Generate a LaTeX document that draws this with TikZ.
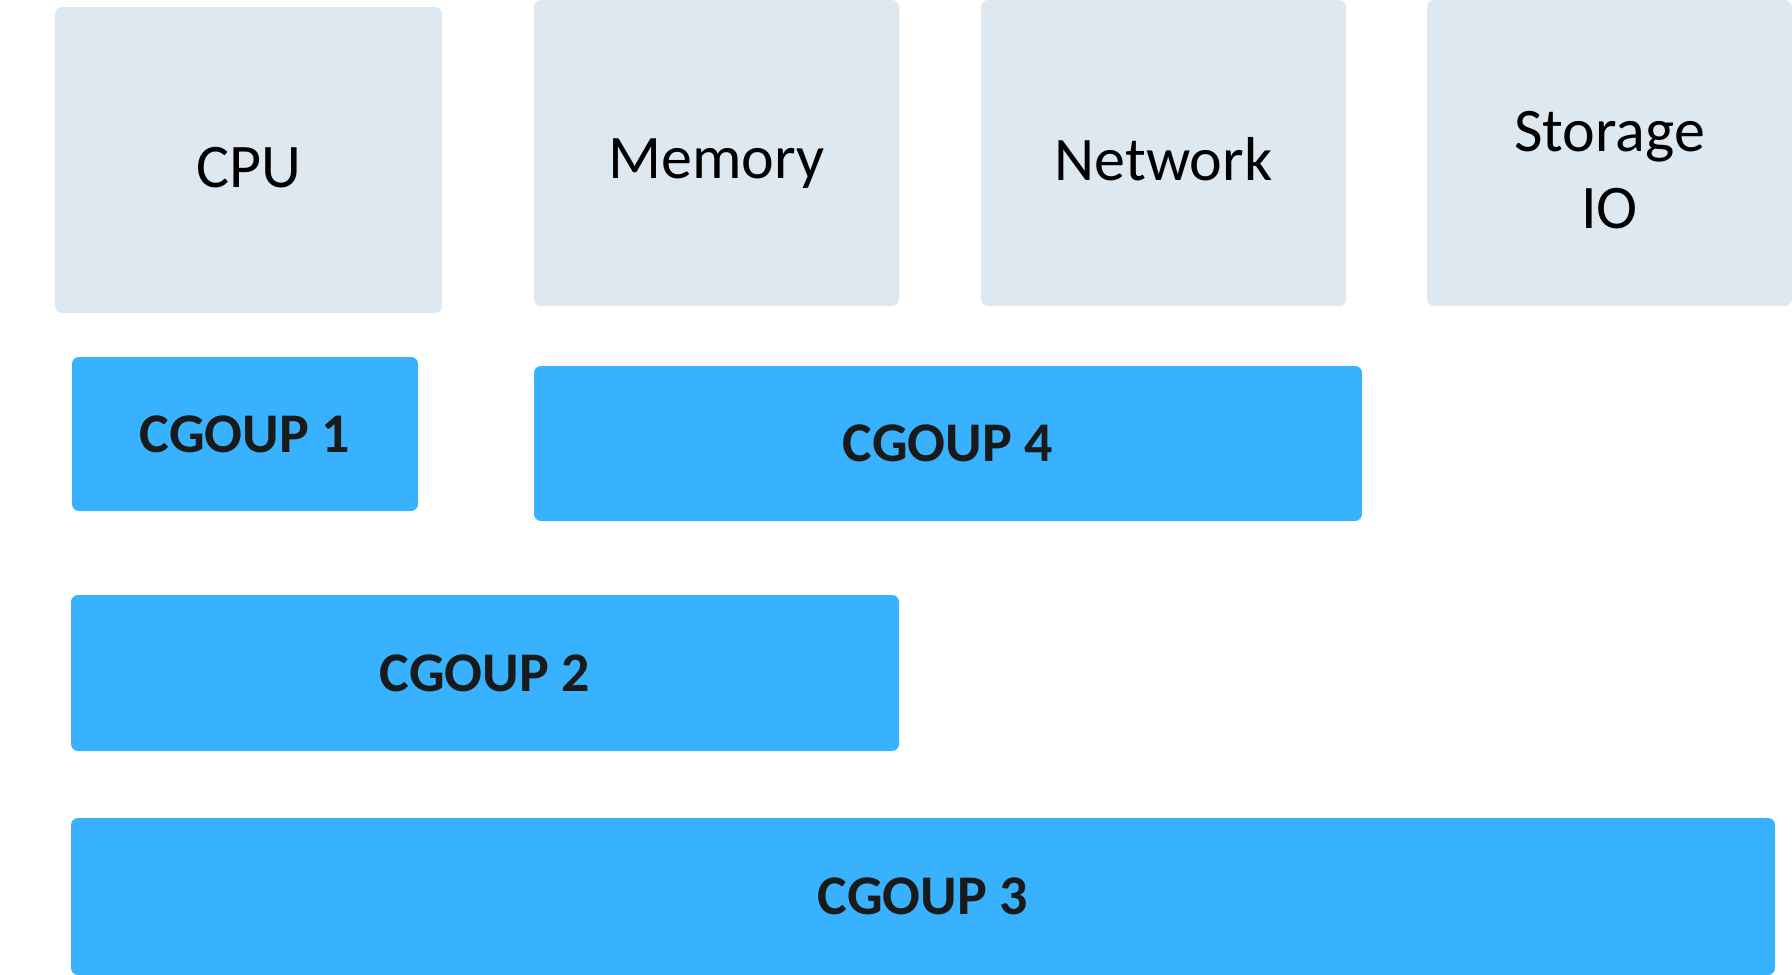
\documentclass[tikz,border=0pt]{standalone}
\usepackage{fontspec}
\setmainfont{Carlito}
\usetikzlibrary{positioning}

\definecolor{reslight}{HTML}{DEE8F1}
\definecolor{cgblue}{HTML}{38B2FE}
\definecolor{cgtext}{HTML}{1A1A1A}

% lower a label without changing its box
\newcommand{\lowtxt}[2]{\raisebox{-#1}[\height][\depth]{#2}}

\begin{document}
\begin{tikzpicture}[x=1pt,y=-1pt,
  resbox/.style={rectangle, rounded corners=7pt, fill=reslight, inner sep=0pt, outer sep=0pt,
    minimum height=306pt, align=center, text=black, font=\fontsize{62}{77}\selectfont},
  cgbox/.style={rectangle, rounded corners=7pt, fill=cgblue, inner sep=0pt, outer sep=0pt,
    minimum height=155pt, text=cgtext, font=\fontsize{56}{66}\selectfont\bfseries}]

\useasboundingbox (0,0) rectangle (1792,975);

% Resources
\node[resbox, minimum width=387pt] (cpu) at (248.5,160) {\lowtxt{8pt}{CPU}};
\node[resbox, minimum width=365pt] (mem) at (716.5,153) {\lowtxt{11pt}{Memory}};
\node[resbox, minimum width=365pt] (net) at (1163.5,153) {\lowtxt{6pt}{Network}};
\node[resbox, minimum width=365pt] (sto) at (1609.5,153) {\lowtxt{17pt}{Storage}\\\lowtxt{17pt}{IO}};

% Control groups
\node[cgbox, minimum width=346pt, minimum height=154pt] (cg1) at (245,434) {CGOUP 1};
\node[cgbox, minimum width=828pt] (cg4) at (948,443.5) {CGOUP 4};
\node[cgbox, minimum width=828pt, minimum height=156pt] (cg2) at (485,673) {CGOUP 2};
\node[cgbox, minimum width=1704pt, minimum height=157pt] (cg3) at (923,896.5) {CGOUP 3};

\end{tikzpicture}
\end{document}
